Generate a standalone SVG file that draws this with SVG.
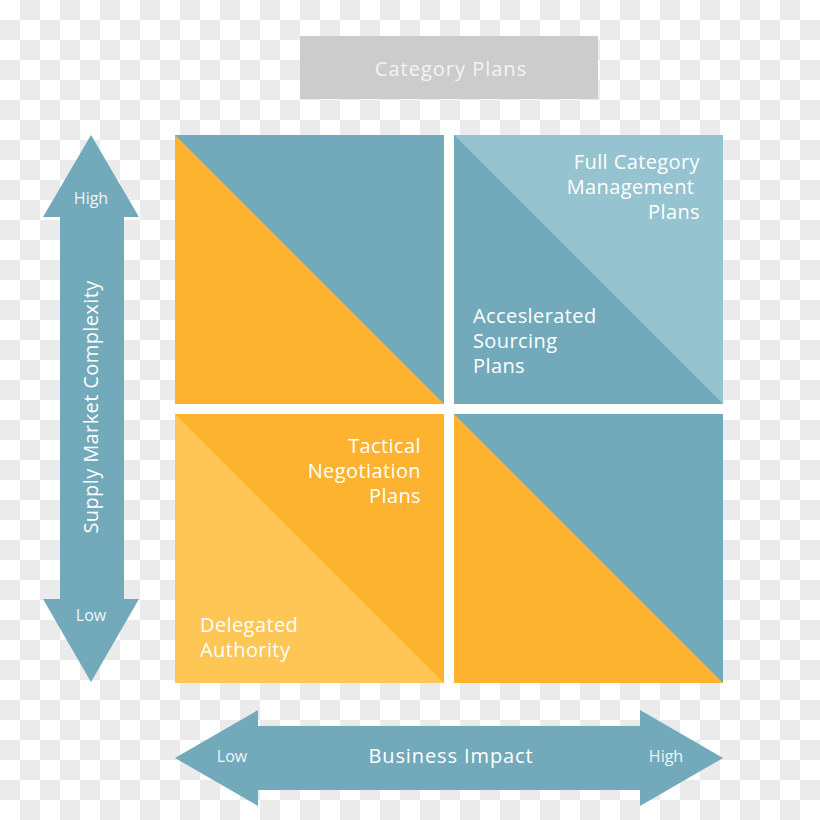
<svg xmlns="http://www.w3.org/2000/svg" width="820" height="820" viewBox="0 0 820 820">
<style>
.t{font-family:"Open Sans","Liberation Sans",sans-serif;fill:#ffffff;font-size:20px;letter-spacing:0.4px}
.s{font-family:"Open Sans","Liberation Sans",sans-serif;fill:#eef6f8;font-size:16px}
.teal{fill:#72aabb}
.teal2{fill:#95c3cf}
.org{fill:#fdb32f}
.org2{fill:#fec655}
.ck line{stroke:#ebebeb;stroke-width:20;stroke-dasharray:20 20}
</style>
<rect x="0" y="0" width="820" height="820" fill="#ffffff"/>
<g class="ck">
<line x1="20" y1="10" x2="820" y2="10"/><line x1="0" y1="30" x2="820" y2="30"/>
<line x1="20" y1="50" x2="820" y2="50"/><line x1="0" y1="70" x2="820" y2="70"/>
<line x1="20" y1="90" x2="820" y2="90"/><line x1="0" y1="110" x2="820" y2="110"/>
<line x1="20" y1="130" x2="820" y2="130"/><line x1="0" y1="150" x2="820" y2="150"/>
<line x1="20" y1="170" x2="820" y2="170"/><line x1="0" y1="190" x2="820" y2="190"/>
<line x1="20" y1="210" x2="820" y2="210"/><line x1="0" y1="230" x2="820" y2="230"/>
<line x1="20" y1="250" x2="820" y2="250"/><line x1="0" y1="270" x2="820" y2="270"/>
<line x1="20" y1="290" x2="820" y2="290"/><line x1="0" y1="310" x2="820" y2="310"/>
<line x1="20" y1="330" x2="820" y2="330"/><line x1="0" y1="350" x2="820" y2="350"/>
<line x1="20" y1="370" x2="820" y2="370"/><line x1="0" y1="390" x2="820" y2="390"/>
<line x1="20" y1="410" x2="820" y2="410"/><line x1="0" y1="430" x2="820" y2="430"/>
<line x1="20" y1="450" x2="820" y2="450"/><line x1="0" y1="470" x2="820" y2="470"/>
<line x1="20" y1="490" x2="820" y2="490"/><line x1="0" y1="510" x2="820" y2="510"/>
<line x1="20" y1="530" x2="820" y2="530"/><line x1="0" y1="550" x2="820" y2="550"/>
<line x1="20" y1="570" x2="820" y2="570"/><line x1="0" y1="590" x2="820" y2="590"/>
<line x1="20" y1="610" x2="820" y2="610"/><line x1="0" y1="630" x2="820" y2="630"/>
<line x1="20" y1="650" x2="820" y2="650"/><line x1="0" y1="670" x2="820" y2="670"/>
<line x1="20" y1="690" x2="820" y2="690"/><line x1="0" y1="710" x2="820" y2="710"/>
<line x1="20" y1="730" x2="820" y2="730"/><line x1="0" y1="750" x2="820" y2="750"/>
<line x1="20" y1="770" x2="820" y2="770"/><line x1="0" y1="790" x2="820" y2="790"/>
<line x1="20" y1="810" x2="820" y2="810"/>
</g>
<g id="category-plans">
<rect x="300" y="36" width="298" height="63" fill="#cccccc"/>
<text class="t" x="451" y="76" text-anchor="middle" style="fill:#f4f4f4;letter-spacing:1px">Category Plans</text>
</g>
<rect x="175" y="135" width="548" height="548" fill="#ffffff"/>
<g id="q-top-left">
<rect class="teal" x="175" y="135" width="269" height="269"/>
<polygon class="org" points="175,135 444,404 175,404"/>
</g>
<g id="q-top-right">
<rect class="teal2" x="454" y="135" width="269" height="269"/>
<polygon class="teal" points="454,135 723,404 454,404"/>
<text class="t" text-anchor="end"><tspan x="700" y="169">Full Category</tspan><tspan x="700" y="194">Management </tspan><tspan x="700" y="219">Plans</tspan></text>
<text class="t"><tspan x="473" y="323">Acceslerated</tspan><tspan x="473" y="348">Sourcing</tspan><tspan x="473" y="373">Plans</tspan></text>
</g>
<g id="q-bottom-left">
<rect class="org" x="175" y="414" width="269" height="269"/>
<polygon class="org2" points="175,414 444,683 175,683"/>
<text class="t" text-anchor="end"><tspan x="421" y="453">Tactical</tspan><tspan x="421" y="478">Negotiation</tspan><tspan x="421" y="503">Plans</tspan></text>
<text class="t"><tspan x="200" y="632">Delegated</tspan><tspan x="200" y="657">Authority</tspan></text>
</g>
<g id="q-bottom-right">
<rect class="teal" x="454" y="414" width="269" height="269"/>
<polygon class="org" points="454,414 723,683 454,683"/>
</g>
<g id="connectors">
<g id="axis-vertical">
<polygon class="teal" points="91,135 139,217 124,217 124,599 139,599 91,682 43,599 60,599 60,217 43,217"/>
<text class="s" x="91" y="204" text-anchor="middle">High</text>
<text class="s" x="91" y="621" text-anchor="middle">Low</text>
<text class="t" transform="translate(98,407) rotate(-90)" text-anchor="middle">Supply Market Complexity</text>
</g>
<g id="axis-horizontal">
<polygon class="teal" points="175,758 258,710 258,726 640,726 640,710 723,758 640,806 640,790 258,790 258,806"/>
<text class="s" x="232" y="762" text-anchor="middle">Low</text>
<text class="t" x="451" y="763" text-anchor="middle" style="letter-spacing:0.9px">Business Impact</text>
<text class="s" x="666" y="762" text-anchor="middle">High</text>
</g>
</g>
</svg>
